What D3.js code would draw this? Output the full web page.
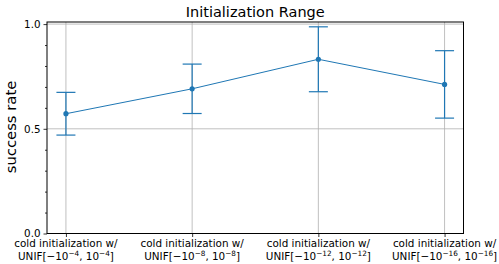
<!DOCTYPE html>
<html>
<head>
<meta charset="utf-8">
<script src="https://d3js.org/d3.v7.min.js"></script>
<style>
    body { margin: 0; background: #fff; }
    svg text { font-family: "DejaVu Sans", sans-serif; fill: #000; }
</style>
</head>
<body>
<svg id="svg"></svg>
<script>
    // chart values
    let categories = ['-4', '-8', '-12', '-16'];   // exponent of the init range
    let successRate = [0.572, 0.691, 0.832, 0.712];
    let errors = [0.102, 0.118, 0.155, 0.161];
    let yMajorTicks = [0.0, 0.5, 1.0];
    let yMinorTicks = [0.1, 0.2, 0.3, 0.4, 0.6, 0.7, 0.8, 0.9];

    let visWidth = 499;
    let visHeight = 264;
    let plotLeft = 47, plotRight = 463.5, plotTop = 22, plotBottom = 233.5;
    let blue = '#1f77b4';

    let svg = d3.select('#svg')
        .attr('width', visWidth)
        .attr('height', visHeight);

    let xScale = d3.scaleLinear()
        .domain([-0.15, categories.length - 1 + 0.15])
        .range([plotLeft, plotRight]);

    let yScale = d3.scaleLinear()
        .domain([0, 1.01])
        .range([plotBottom, plotTop]);

    // grid
    svg.append('g').selectAll('line')
        .data(categories)
        .enter().append('line')
        .attr('x1', (d, i) => xScale(i)).attr('x2', (d, i) => xScale(i))
        .attr('y1', plotTop).attr('y2', plotBottom)
        .attr('stroke', '#b0b0b0').attr('stroke-width', 0.8);

    svg.append('g').selectAll('line')
        .data(yMajorTicks)
        .enter().append('line')
        .attr('x1', plotLeft).attr('x2', plotRight)
        .attr('y1', d => yScale(d)).attr('y2', d => yScale(d))
        .attr('stroke', '#b0b0b0').attr('stroke-width', 0.8);

    // y axis with major + minor ticks
    let yAxis = d3.axisLeft(yScale).tickValues(yMajorTicks)
        .tickFormat(d3.format('.1f')).tickSize(3.5).tickPadding(3).tickSizeOuter(0);
    let yAxisGroup = svg.append('g')
        .attr('transform', `translate(${plotLeft},0)`)
        .call(yAxis);
    yAxisGroup.select('.domain').remove();
    yAxisGroup.selectAll('text')
        .style('font-size', '10.3px')
        .style('font-family', '"DejaVu Sans", sans-serif');

    let yMinor = d3.axisLeft(yScale).tickValues(yMinorTicks)
        .tickFormat('').tickSize(2).tickSizeOuter(0);
    let yMinorGroup = svg.append('g')
        .attr('transform', `translate(${plotLeft},0)`)
        .call(yMinor);
    yMinorGroup.select('.domain').remove();
    svg.selectAll('.tick line').attr('stroke', '#000').attr('stroke-width', 0.8);

    // x axis ticks
    let xAxis = d3.axisBottom(xScale).tickValues(d3.range(categories.length))
        .tickFormat('').tickSize(3.5).tickSizeOuter(0);
    let xAxisGroup = svg.append('g')
        .attr('transform', `translate(0,${plotBottom})`)
        .call(xAxis);
    xAxisGroup.select('.domain').remove();
    xAxisGroup.selectAll('.tick line').attr('stroke', '#000').attr('stroke-width', 0.8);

    // two-line x labels with superscripts
    let labels = svg.append('g').selectAll('text')
        .data(categories)
        .enter().append('text')
        .attr('text-anchor', 'middle')
        .style('font-size', '10.4px');
    labels.append('tspan')
        .attr('x', (d, i) => xScale(i))
        .attr('y', 247)
        .text('cold initialization w/');
    labels.each(function(d, i) {
        let t = d3.select(this);
        let exp = d.replace('-', '\u2212');
        let line = t.append('tspan').attr('x', xScale(i)).attr('y', 260);
        line.append('tspan').text('UNIF[\u221210');
        line.append('tspan').attr('dy', -4).style('font-size', '7.3px').text(exp);
        line.append('tspan').attr('dy', 4).text(', 10');
        line.append('tspan').attr('dy', -4).style('font-size', '7.3px').text(exp);
        line.append('tspan').attr('dy', 4).text(']');
    });

    // line
    let line = d3.line()
        .x((d, i) => xScale(i))
        .y(d => yScale(d));
    svg.append('path')
        .datum(successRate)
        .attr('d', line)
        .attr('fill', 'none')
        .attr('stroke', blue)
        .attr('stroke-width', 1);

    // error bars
    let eb = svg.append('g').selectAll('g')
        .data(successRate)
        .enter().append('g')
        .attr('stroke', blue)
        .attr('stroke-width', 1.2);
    eb.append('line')
        .attr('x1', (d, i) => xScale(i)).attr('x2', (d, i) => xScale(i))
        .attr('y1', (d, i) => yScale(d - errors[i]))
        .attr('y2', (d, i) => yScale(d + errors[i]));
    eb.append('line')
        .attr('x1', (d, i) => xScale(i) - 9.5).attr('x2', (d, i) => xScale(i) + 9.5)
        .attr('y1', (d, i) => yScale(d + errors[i]))
        .attr('y2', (d, i) => yScale(d + errors[i]));
    eb.append('line')
        .attr('x1', (d, i) => xScale(i) - 9.5).attr('x2', (d, i) => xScale(i) + 9.5)
        .attr('y1', (d, i) => yScale(d - errors[i]))
        .attr('y2', (d, i) => yScale(d - errors[i]));

    svg.append('g').selectAll('circle')
        .data(successRate)
        .enter().append('circle')
        .attr('cx', (d, i) => xScale(i))
        .attr('cy', d => yScale(d))
        .attr('r', 2.6)
        .attr('fill', blue);

    // frame
    svg.append('rect')
        .attr('x', plotLeft).attr('y', plotTop)
        .attr('width', plotRight - plotLeft).attr('height', plotBottom - plotTop)
        .attr('fill', 'none')
        .attr('stroke', '#000')
        .attr('stroke-width', 1);

    // title + y label
    svg.append('text')
        .text('Initialization Range')
        .attr('x', (plotLeft + plotRight) / 2)
        .attr('y', 16.5)
        .attr('text-anchor', 'middle')
        .style('font-size', '14.5px');

    svg.append('text')
        .text('success rate')
        .attr('text-anchor', 'middle')
        .attr('transform', `translate(16, 127) rotate(-90)`)
        .style('font-size', '14.8px');
</script>
</body>
</html>
